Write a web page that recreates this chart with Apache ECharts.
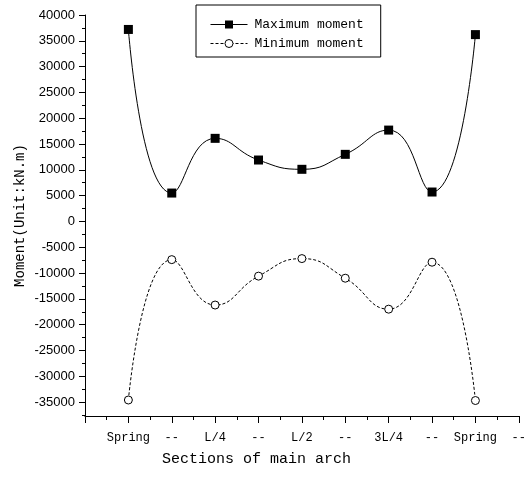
<!DOCTYPE html>
<html>
<head>
<meta charset="utf-8">
<script src="https://cdn.jsdelivr.net/npm/echarts@6/dist/echarts.min.js"></script>
<style>
  html, body { margin: 0; padding: 0; background: #fff; }
  #chart { width: 529px; height: 477px; }
</style>
</head>
<body>
<div id="chart"></div>
<script>
// x positions 0..10, label for each integer tick (0 has none)
const sectionLabels = ['', 'Spring', '--', 'L/4', '--', 'L/2', '--', '3L/4', '--', 'Spring', '--'];
const sectionPos = [1, 2, 3, 4, 5, 6, 7, 8, 9];

const maxMoment = [37200, 5500, 16100, 11900, 10100, 13000, 17700, 5700, 36200];
const minMoment = [-34600, -7400, -16200, -10600, -7200, -11000, -17000, -7900, -34700];

const yMajorTicks = [-35000, -30000, -25000, -20000, -15000, -10000, -5000, 0,
  5000, 10000, 15000, 20000, 25000, 30000, 35000, 40000];
const yMinorTicks = [-37500, -32500, -27500, -22500, -17500, -12500, -7500, -2500,
  2500, 7500, 12500, 17500, 22500, 27500, 32500, 37500];

const mono = 'Liberation Mono';
const sans = 'Liberation Sans';
const yMin = -37700, yMax = 40000;

const chart = echarts.init(document.getElementById('chart'));

chart.setOption({
  animation: false,
  backgroundColor: '#fff',
  grid: { left: 85, right: 7, top: 15, bottom: 61 },
  legend: {
    orient: 'vertical',
    left: 196,
    top: 5,
    padding: [13, 17, 7, 14],
    borderColor: '#000',
    borderWidth: 1,
    itemWidth: 37,
    itemHeight: 10,
    itemGap: 6,
    itemStyle: { borderWidth: 1 },
    lineStyle: { width: 1 },
    textStyle: { fontFamily: mono, fontSize: 13, color: '#000', padding: [0, 0, 0, 2] },
    data: ['Maximum moment', 'Minimum moment']
  },
  xAxis: {
    type: 'value',
    min: 0,
    max: 10,
    interval: 1,
    name: 'Sections of main arch',
    nameLocation: 'middle',
    nameGap: 36,
    nameTextStyle: { fontFamily: mono, fontSize: 15, color: '#000', padding: [0, 91, 0, 0] },
    axisLine: { onZero: false, lineStyle: { color: '#000', width: 1 } },
    axisTick: { length: 7, lineStyle: { color: '#000' } },
    minorTick: { show: true, splitNumber: 2, length: 4, lineStyle: { color: '#000' } },
    splitLine: { show: false },
    axisLabel: {
      fontFamily: mono, fontSize: 12, color: '#000', margin: 16,
      showMinLabel: true, showMaxLabel: true,
      formatter: v => sectionLabels[Math.round(v)] || ''
    }
  },
  yAxis: [
    {
      type: 'value',
      min: yMin,
      max: yMax,
      position: 'left',
      name: 'Moment(Unit:kN.m)',
      nameLocation: 'middle',
      nameGap: 58,
      nameMoveOverlap: false,
      nameTextStyle: { fontFamily: mono, fontSize: 14, color: '#000' },
      axisLine: { show: true, onZero: false, lineStyle: { color: '#000', width: 1 } },
      axisTick: { show: true, length: 6, customValues: yMajorTicks, lineStyle: { color: '#000' } },
      axisLabel: {
        fontFamily: sans, fontSize: 13, color: '#000', margin: 10,
        customValues: yMajorTicks,
        formatter: v => String(v)
      },
      splitLine: { show: false }
    },
    {
      type: 'value',
      min: yMin,
      max: yMax,
      position: 'left',
      axisLine: { show: false, onZero: false },
      axisTick: { show: true, length: 3, customValues: yMinorTicks, lineStyle: { color: '#000' } },
      axisLabel: { show: false },
      splitLine: { show: false }
    }
  ],
  series: [
    {
      name: 'Maximum moment',
      type: 'line',
      smooth: 0.5,
      data: sectionPos.map((x, i) => [x, maxMoment[i]]),
      symbol: 'rect',
      symbolSize: 9,
      itemStyle: { color: '#000' },
      lineStyle: { color: '#000', width: 1 }
    },
    {
      name: 'Minimum moment',
      type: 'line',
      smooth: 0.5,
      data: sectionPos.map((x, i) => [x, minMoment[i]]),
      symbol: 'circle',
      symbolSize: 8,
      itemStyle: { color: '#fff', borderColor: '#000', borderWidth: 1 },
      lineStyle: { color: '#000', width: 1, type: [3, 2] }
    }
  ]
});
</script>
</body>
</html>
